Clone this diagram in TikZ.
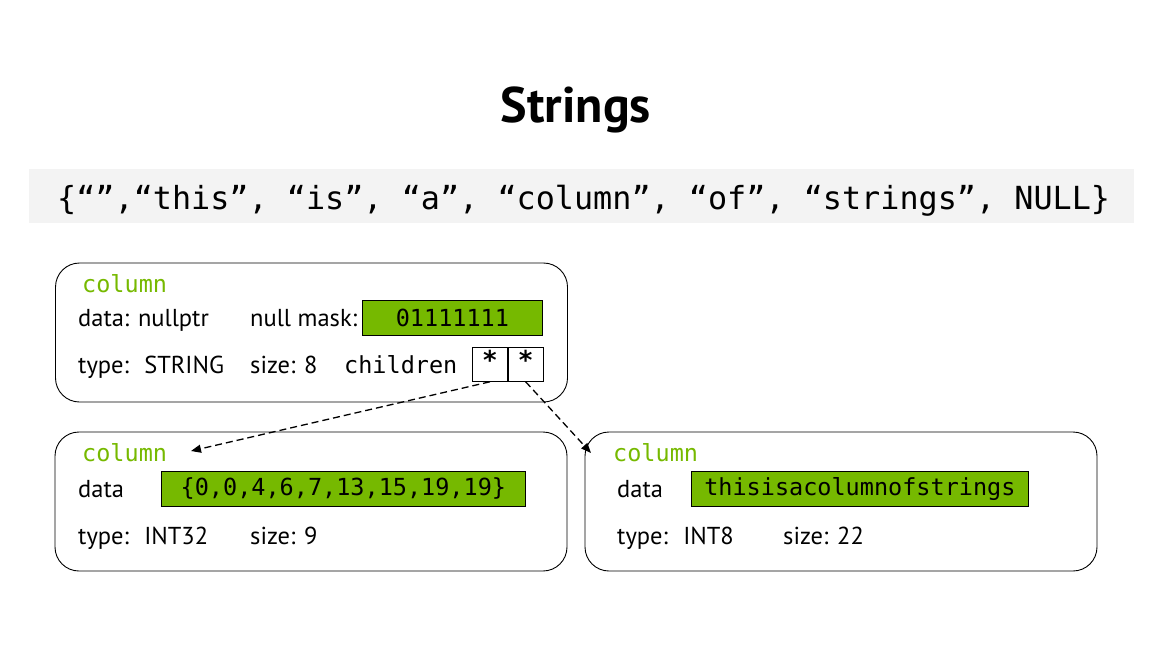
\documentclass[tikz,border=0pt]{standalone}
\usepackage{fontspec}
\setmainfont{PT Sans}
\setmonofont{DejaVu Sans Mono}
\usepackage{xcolor}
\usetikzlibrary{arrows.meta,positioning}
\definecolor{nvgreen}{HTML}{76B900}
\definecolor{bargray}{HTML}{F3F3F3}

\begin{document}
\begin{tikzpicture}[x=1pt, y=-1pt,
    every node/.style={font=\fontsize{24.5}{28}\selectfont, inner sep=0pt},
    colbox/.style={draw, rounded corners=24pt, line width=0.9pt, minimum width=512pt, minimum height=139pt},
    colname/.style={font=\fontsize{23.5}{26}\selectfont\ttfamily, text=nvgreen, anchor=base west},
    lbl/.style={anchor=base west},
    code/.style={font=\fontsize{23.5}{26}\selectfont\ttfamily},
    valbox/.style={draw, fill=nvgreen, line width=0.8pt, code, minimum height=35pt, anchor=north west},
    cell/.style={draw, line width=0.8pt, minimum width=35pt, minimum height=34pt},
    ptr/.style={dash pattern=on 7pt off 4pt, line width=1.3pt, -{Triangle[length=10pt,width=8pt]}}]
    \useasboundingbox (0,0) rectangle (1152,648);

    % title and the string list
    \node[font=\fontsize{50}{54}\selectfont\bfseries] (title) at (576,110) {Strings};
    \node[fill=bargray, minimum width=1105pt, minimum height=54pt] (bar) at (581.5,196) {};
    \node[code, font=\fontsize{31.8}{36}\selectfont\ttfamily, anchor=base west] (list) at (57,209) {\{“”,“this”, “is”, “a”, “column”, “of”, “strings”, NULL\}};

    % parent column
    \node[colbox] (parent) at (311.5,332.5) {};
    \node[colname] (pname) at (82,292) {column};
    \node[lbl] (pdata) at (78,326) {data: nullptr};
    \node[lbl] (pmask) at (250,326) {null mask:};
    \node[valbox, minimum width=180pt] (pbits) at (362,300) {01111111};
    \node[lbl] (ptype) at (78,373) {type:~ STRING};
    \node[lbl] (psize) at (250,373) {size: 8};
    \node[lbl, code] (pkids) at (344,373) {children};
    \node[cell, anchor=north west] (kid1) at (472,347) {};
    \node[cell, right=0pt of kid1] (kid2) {};
    \node[code, font=\fontsize{26}{28}\selectfont\ttfamily\bfseries, anchor=north, yshift=-3pt] (star1) at (kid1.north) {*};
    \node[code, font=\fontsize{26}{28}\selectfont\ttfamily\bfseries, anchor=north, yshift=-3pt] (star2) at (kid2.north) {*};

    % offsets child
    \node[colbox] (offs) at (311,501.5) {};
    \node[colname] (oname) at (82,461) {column};
    \node[lbl] (odata) at (78,497) {data};
    \node[valbox, minimum width=364pt] (ovals) at (161,471) {\{0,0,4,6,7,13,15,19,19\}};
    \node[lbl] (otype) at (78,544) {type:~ INT32};
    \node[lbl] (osize) at (250,544) {size: 9};

    % chars child
    \node[colbox] (chars) at (841,501.5) {};
    \node[colname] (cname) at (613,461) {column};
    \node[lbl] (cdata) at (617,497) {data};
    \node[valbox, minimum width=337pt] (cvals) at (691,471) {thisisacolumnofstrings};
    \node[lbl] (ctype) at (617,544) {type:~ INT8};
    \node[lbl] (csize) at (783,544) {size: 22};

    \coordinate (otip) at (191,451);
    \coordinate (ctip) at (591,453);
    \draw[ptr] (kid1.south) -- (otip);
    \draw[ptr] (kid2.south) -- (ctip);
  \end{tikzpicture}
\end{document}
